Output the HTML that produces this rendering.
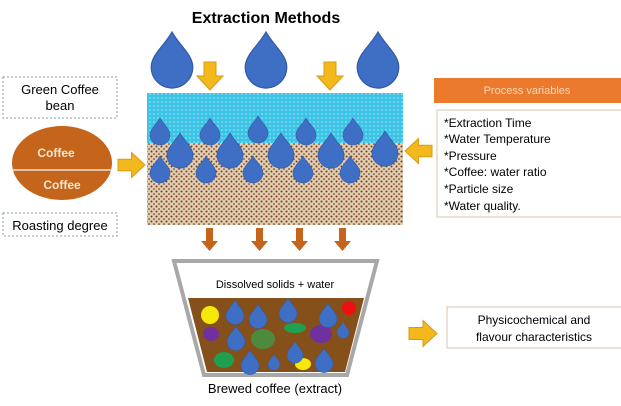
<!DOCTYPE html>
<html><head><meta charset="utf-8"><style>body{margin:0;background:#fff}svg{display:block}text{font-family:"Liberation Sans",sans-serif}</style></head><body>
<svg width="621" height="406" viewBox="0 0 621 406" xmlns="http://www.w3.org/2000/svg">
<defs>
<pattern id="w" width="4" height="4" patternUnits="userSpaceOnUse"><rect width="4" height="4" fill="#3cc4e6"/><circle cx="2" cy="2" r="0.8" fill="#a8e6f6"/></pattern>
<pattern id="c" width="5" height="5" patternUnits="userSpaceOnUse"><rect width="5" height="5" fill="#e2cdb0"/><circle cx="1.5" cy="1.5" r="1" fill="#7a3a1a"/><circle cx="4" cy="4" r="0.8" fill="#4a2a1a"/></pattern>
<symbol id="d" viewBox="-10 -14 20 26" overflow="visible"><path d="M0,-14 C4,-7 10,-3 10,3 A10,10 0 0 1 -10,3 C-10,-3 -4,-7 0,-14Z" fill="#3f6fc4" stroke="#2f5aa8" stroke-width="0.6"/></symbol>
<symbol id="ya" viewBox="0 0 28 26" overflow="visible"><path d="M0,7 H14 V0 L28,13 L14,26 V19 H0Z" fill="#f2b81c" stroke="#d99a10" stroke-width="1"/></symbol>
</defs>
<text x="266" y="23" font-size="16" font-weight="bold" text-anchor="middle">Extraction Methods</text>
<use href="#d" x="151" y="32" width="42" height="54"/>
<use href="#d" x="245" y="32" width="42" height="54"/>
<use href="#d" x="357" y="32" width="42" height="54"/>
<g transform="translate(223,62) rotate(90)"><use href="#ya" width="28" height="26"/></g>
<g transform="translate(343,62) rotate(90)"><use href="#ya" width="28" height="26"/></g>
<rect x="147" y="93" width="256" height="50" fill="url(#w)"/>
<rect x="147" y="143" width="256" height="82" fill="url(#c)"/>
<g>
<use href="#d" x="150" y="118" width="20" height="26"/><use href="#d" x="200" y="118" width="20" height="26"/><use href="#d" x="248" y="116" width="20" height="26"/><use href="#d" x="296" y="118" width="20" height="26"/><use href="#d" x="343" y="118" width="20" height="26"/>
<use href="#d" x="167" y="133" width="26" height="34"/><use href="#d" x="217" y="133" width="26" height="34"/><use href="#d" x="268" y="133" width="26" height="34"/><use href="#d" x="318" y="133" width="26" height="34"/><use href="#d" x="372" y="131" width="26" height="34"/>
<use href="#d" x="150" y="156" width="20" height="26"/><use href="#d" x="196" y="156" width="20" height="26"/><use href="#d" x="243" y="156" width="20" height="26"/><use href="#d" x="293" y="156" width="20" height="26"/><use href="#d" x="340" y="156" width="20" height="26"/>
</g>
<rect x="3" y="77" width="114" height="41" fill="#fff" stroke="#8a9aaa" stroke-dasharray="2,2"/>
<text x="60" y="94" font-size="13" text-anchor="middle">Green Coffee</text>
<text x="60" y="110" font-size="13" text-anchor="middle">bean</text>
<ellipse cx="62" cy="163" rx="50" ry="37" fill="#c4651b"/>
<line x1="13" y1="170" x2="111" y2="170" stroke="#f3e2d0" stroke-width="1.5"/>
<text x="56" y="157" font-size="12" font-weight="bold" fill="#f6e6d2" text-anchor="middle">Coffee</text>
<text x="62" y="189" font-size="12" font-weight="bold" fill="#f6e6d2" text-anchor="middle">Coffee</text>
<rect x="3" y="213" width="114" height="23" fill="#fff" stroke="#8a9aaa" stroke-dasharray="2,2"/>
<text x="60" y="230" font-size="13" text-anchor="middle">Roasting degree</text>
<use href="#ya" x="118" y="152" width="27" height="26"/>
<g fill="#c4651b"><path d="M206,228h7v13h5l-8.5,10l-8.5,-10h5z"/><path d="M256,228h7v13h5l-8.5,10l-8.5,-10h5z"/><path d="M296,228h7v13h5l-8.5,10l-8.5,-10h5z"/><path d="M339,228h7v13h5l-8.5,10l-8.5,-10h5z"/></g>
<path d="M174,261 L377,261 L347,375 L204,375Z" fill="#fff" stroke="#a8a8a8" stroke-width="4"/>
<path d="M188,298 L364,298 L345,372 L207,372Z" fill="#86501a"/>
<text x="275" y="288" font-size="11" text-anchor="middle">Dissolved solids + water</text>
<circle cx="210" cy="315" r="9" fill="#f5e80a"/><circle cx="349" cy="308" r="7" fill="#ee1010"/>
<ellipse cx="211" cy="334" rx="8" ry="7" fill="#7030a0"/><ellipse cx="263" cy="339" rx="12" ry="10" fill="#4e8a3c"/>
<ellipse cx="295" cy="328" rx="11" ry="5" fill="#1fa050"/><ellipse cx="321" cy="334" rx="11" ry="9" fill="#7030a0"/>
<ellipse cx="224" cy="360" rx="10" ry="8" fill="#1fa050"/><ellipse cx="303" cy="364" rx="8" ry="6" fill="#f5e80a"/>
<use href="#d" x="226" y="300" width="18" height="24"/><use href="#d" x="249" y="304" width="18" height="24"/><use href="#d" x="279" y="298" width="18" height="24"/><use href="#d" x="319" y="303" width="18" height="24"/>
<use href="#d" x="227" y="326" width="18" height="24"/><use href="#d" x="337" y="322" width="12" height="16"/><use href="#d" x="287" y="341" width="16" height="22"/>
<use href="#d" x="241" y="350" width="18" height="24"/><use href="#d" x="268" y="354" width="12" height="16"/><use href="#d" x="315" y="348" width="18" height="24"/>
<text x="275" y="393" font-size="13" text-anchor="middle">Brewed coffee (extract)</text>
<rect x="434" y="78" width="190" height="25" fill="#ec7a2c"/>
<text x="527" y="94" font-size="11" fill="#fbd8b8" text-anchor="middle">Process variables</text>
<rect x="437" y="110" width="188" height="107" fill="#fff" stroke="#d8c4b0"/>
<g font-size="12"><text x="444" y="127">*Extraction Time</text><text x="444" y="143">*Water Temperature</text><text x="444" y="160">*Pressure</text><text x="444" y="176">*Coffee: water ratio</text><text x="444" y="193">*Particle size</text><text x="444" y="210">*Water quality.</text></g>
<g transform="translate(432,164) rotate(180)"><use href="#ya" width="27" height="26"/></g>
<rect x="447" y="307" width="178" height="41" fill="#fff" stroke="#d8c4b0"/>
<text x="534" y="324" font-size="12" text-anchor="middle">Physicochemical and</text>
<text x="534" y="341" font-size="12" text-anchor="middle">flavour characteristics</text>
<use href="#ya" x="409" y="320" width="28" height="27"/>
</svg>
</body></html>
